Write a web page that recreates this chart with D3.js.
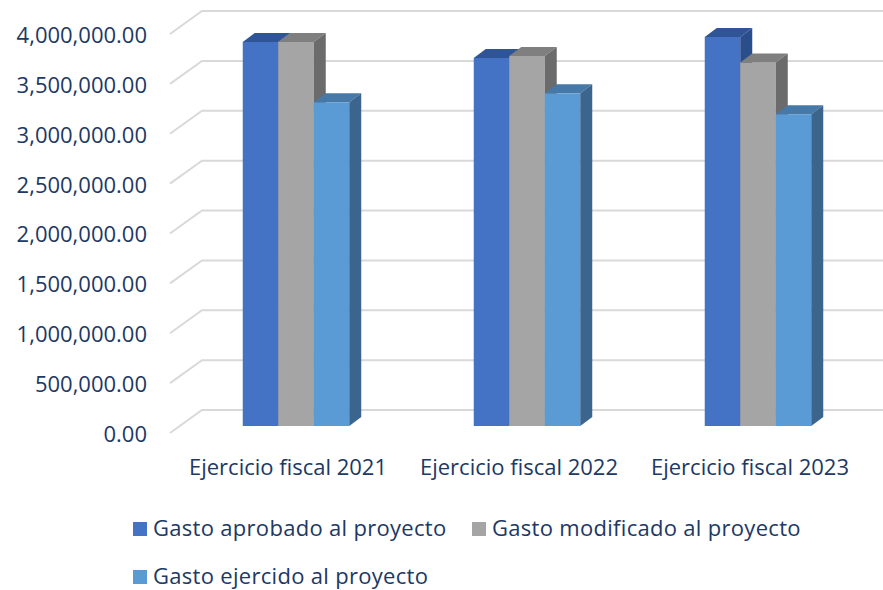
<!DOCTYPE html>
<html>
<head>
<meta charset="UTF-8">
<script src="https://d3js.org/d3.v7.min.js"></script>
<style>
  body { margin: 0; background: #ffffff; }
  text { font-family: "Open Sans", "DejaVu Sans", sans-serif; fill: #203864; }
</style>
</head>
<body>
<svg width="883" height="590"></svg>
<script>
// chart data
const categories = ["Ejercicio fiscal 2021", "Ejercicio fiscal 2022", "Ejercicio fiscal 2023"];
const seriesNames = ["Gasto aprobado al proyecto", "Gasto modificado al proyecto", "Gasto ejercido al proyecto"];
const aprobado = [3850000, 3690000, 3900000];
const modificado = [3850000, 3710000, 3645000];
const ejercido = [3245000, 3335000, 3125000];
const yTicks = [0, 500000, 1000000, 1500000, 2000000, 2500000, 3000000, 3500000, 4000000];

const seriesValues = [aprobado, modificado, ejercido];
// front / top / side colours for each series
const faceColors = [
    { front: "#4472c4", top: "#2f5597", side: "#2a4d8c" },
    { front: "#a5a5a5", top: "#7f7f7f", side: "#6b6b6b" },
    { front: "#5b9bd5", top: "#4678a8", side: "#3b658c" }
];

const svg = d3.select("svg");

// back wall scale, the floor/front edge is shifted by the depth offset
const yBack = d3.scaleLinear().domain([0, 4000000]).range([410, 11]);
const wallLeft = 202, wallRight = 883;
const depth = { dx: -32, dy: 23 };     // back wall -> front of floor
const barFront = 16;                   // back wall -> bar front face (y)
const barDepth = { dx: 12, dy: -9 };   // bar front -> bar back

const xGroup = d3.scalePoint().domain(categories).range([296, 758]);
const groupWidth = 106.5;
const xSeries = d3.scaleBand().domain(d3.range(seriesNames.length))
    .range([-groupWidth / 2, groupWidth / 2]).padding(0);

// gridlines: back wall plus the slanted left wall edge
const grid = svg.append("g");
grid.selectAll("path").data(yTicks).enter().append("path")
    .attr("d", d => {
        const y = yBack(d);
        return "M" + (wallLeft + depth.dx) + "," + (y + depth.dy) +
               "L" + wallLeft + "," + y + "L" + wallRight + "," + y;
    })
    .attr("fill", "none")
    .attr("stroke", "#d9d9d9")
    .attr("stroke-width", 2);

// y labels
svg.append("g").selectAll("text").data(yTicks).enter().append("text")
    .attr("x", 147)
    .attr("y", d => yBack(d) + 26)
    .attr("text-anchor", "end")
    .attr("dominant-baseline", "middle")
    .style("font-size", "22px")
    .text(d => d3.format(",.2f")(d));

// bars
const bars = svg.append("g");
categories.forEach((cat, ci) => {
    seriesValues.forEach((vals, si) => {
        const x0 = xGroup(cat) + xSeries(si);
        const x1 = x0 + xSeries.bandwidth();
        const yTop = yBack(vals[ci]) + barFront;
        const yBot = yBack(0) + barFront;
        const c = faceColors[si];
        const g = bars.append("g");
        g.append("rect")
            .attr("x", x0).attr("y", yTop)
            .attr("width", x1 - x0).attr("height", yBot - yTop)
            .attr("fill", c.front);
        g.append("path")
            .attr("d", "M" + x0 + "," + yTop + "L" + (x0 + barDepth.dx) + "," + (yTop + barDepth.dy) +
                "L" + (x1 + barDepth.dx) + "," + (yTop + barDepth.dy) + "L" + x1 + "," + yTop + "Z")
            .attr("fill", c.top);
        g.append("path")
            .attr("d", "M" + x1 + "," + yTop + "L" + (x1 + barDepth.dx) + "," + (yTop + barDepth.dy) +
                "L" + (x1 + barDepth.dx) + "," + (yBot + barDepth.dy) + "L" + x1 + "," + yBot + "Z")
            .attr("fill", c.side);
    });
});

// category labels
svg.append("g").selectAll("text").data(categories).enter().append("text")
    .attr("x", d => xGroup(d) - 8)
    .attr("y", 469)
    .attr("text-anchor", "middle")
    .attr("dominant-baseline", "middle")
    .style("font-size", "22px")
    .text(d => d);

// legend
const legendPos = [[133, 529], [472, 529], [133, 577]];
const legend = svg.append("g");
seriesNames.forEach((name, i) => {
    const [lx, ly] = legendPos[i];
    legend.append("rect")
        .attr("x", lx).attr("y", ly - 7)
        .attr("width", 14).attr("height", 14)
        .attr("fill", faceColors[i].front);
    legend.append("text")
        .attr("x", lx + 20).attr("y", ly + 1)
        .attr("dominant-baseline", "middle")
        .style("font-size", "22px")
        .style("letter-spacing", "0.3px")
        .text(name);
});
</script>
</body>
</html>
